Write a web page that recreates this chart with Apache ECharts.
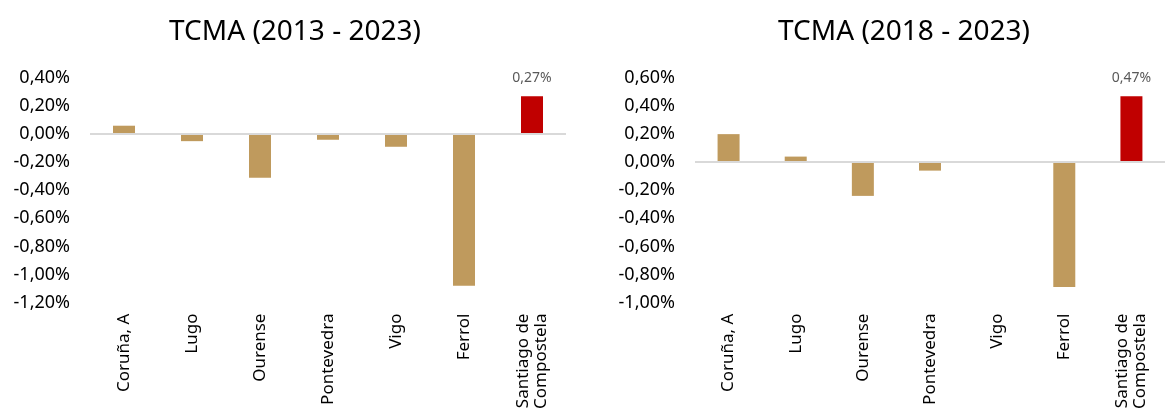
<!DOCTYPE html>
<html>
<head>
<meta charset="utf-8">
<script src="https://cdn.jsdelivr.net/npm/echarts@6/dist/echarts.min.js"></script>
<style>
  html, body { margin: 0; padding: 0; background: #fff; }
  #chart { width: 1165px; height: 412px; }
</style>
</head>
<body>
<div id="chart"></div>
<script>
// Cities on the category axis
const categories = ['Coruña, A', 'Lugo', 'Ourense', 'Pontevedra', 'Vigo', 'Ferrol', 'Santiago de\nCompostela'];

// Compound annual growth rate (%), two periods
const tcma2013_2023 = [0.06, -0.05, -0.31, -0.04, -0.09, -1.08, 0.27];
const tcma2018_2023 = [0.20, 0.04, -0.24, -0.06, 0.00, -0.89, 0.47];

const titles = ['TCMA (2013 - 2023)', 'TCMA (2018 - 2023)'];

// Value-axis ranges per panel
const yMin = [-1.2, -1.0];
const yMax = [0.4, 0.6];
const yStep = 0.2;

const FONT = 'Noto Sans';
const TAN = '#BF9A5D';
const RED = '#C00000';
const highlightIndex = 6;

const fmtPct = v => v.toFixed(2).replace('.', ',') + '%';

function seriesData(values) {
  return values.map((v, i) => i === highlightIndex
    ? { value: v, itemStyle: { color: RED },
        label: { show: true, position: 'top', distance: 11, color: '#595959',
                 fontFamily: FONT, fontSize: 14, formatter: p => fmtPct(p.value) } }
    : { value: v });
}

const grids = [
  { left: 90, top: 78, width: 476, height: 227 },
  { left: 695, top: 78, width: 477, height: 227 }
];

const titleStyle = { fontFamily: FONT, fontSize: 28, fontWeight: 'normal', color: '#000' };

const chart = echarts.init(document.getElementById('chart'));
chart.setOption({
  animation: false,
  title: [
    { text: titles[0], left: 290, top: 13, textAlign: 'center', textStyle: titleStyle },
    { text: titles[1], left: 899, top: 13, textAlign: 'center', textStyle: titleStyle }
  ],
  grid: grids,
  xAxis: [0, 1].map(g => ({
    type: 'category', gridIndex: g, data: categories,
    axisLine: { show: false, onZero: false }, axisTick: { show: false },
    axisLabel: { interval: 0, rotate: 90, margin: 11, color: '#000',
                 fontFamily: FONT, fontSize: 17, lineHeight: 18 }
  })),
  yAxis: [0, 1].map(g => ({
    type: 'value', gridIndex: g, min: yMin[g], max: yMax[g], interval: yStep,
    axisLine: { show: false }, axisTick: { show: false }, splitLine: { show: false },
    axisLabel: { margin: 20, color: '#000', fontFamily: FONT, fontSize: 18,
                 formatter: v => fmtPct(v) }
  })),
  series: [tcma2013_2023, tcma2018_2023].map((vals, g) => ({
    type: 'bar', xAxisIndex: g, yAxisIndex: g,
    data: seriesData(vals), barWidth: 22,
    itemStyle: { color: TAN },
    markLine: {
      silent: true, symbol: 'none', label: { show: false },
      lineStyle: { color: '#D9D9D9', width: 2, type: 'solid' },
      data: [{ yAxis: 0 }]
    },
    z: 3
  }))
});
</script>
</body>
</html>
